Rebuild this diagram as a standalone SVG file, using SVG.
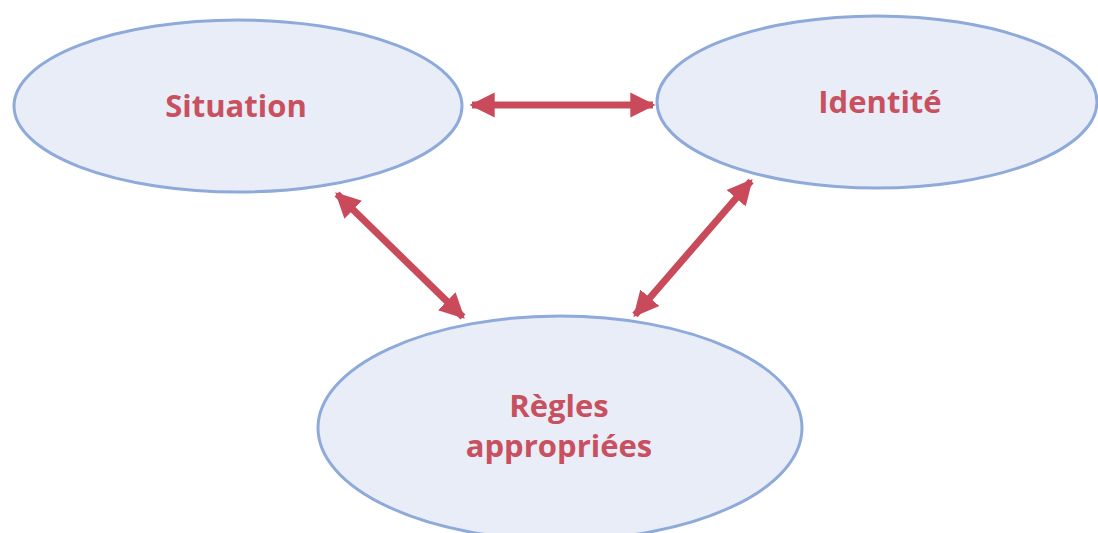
<svg xmlns="http://www.w3.org/2000/svg" width="1098" height="533" viewBox="0 0 1098 533">
<style>
.node{fill:#e8edf8;stroke:#8eaadb;stroke-width:3}
.lbl{font-family:"Open Sans","Noto Sans",sans-serif;font-weight:bold;font-size:31px;fill:#c9505e;text-anchor:middle}
.con{stroke:#c94b5b;stroke-width:7;fill:none;marker-start:url(#ah);marker-end:url(#ah)}
</style>
<defs>
<marker id="ah" viewBox="0 0 10 10" refX="9" refY="5" markerWidth="3.6" markerHeight="3.9" orient="auto-start-reverse" markerUnits="strokeWidth">
<path d="M0,0 L10,5 L0,10 Z" fill="#c94b5b"/>
</marker>
</defs>
<rect width="1098" height="533" fill="#fff"/>
<g id="situation">
<ellipse class="node" cx="238" cy="106" rx="224" ry="86"/>
<text class="lbl" x="236" y="117">Situation</text>
</g>
<g id="identite">
<ellipse class="node" cx="877" cy="102" rx="220" ry="86"/>
<text class="lbl" x="880" y="113">Identité</text>
</g>
<g id="regles">
<ellipse class="node" cx="560" cy="428" rx="242" ry="112"/>
<text class="lbl" x="559" y="417">Règles</text>
<text class="lbl" x="559" y="457">appropriées</text>
</g>
<g id="connectors">
<line class="con" x1="472" y1="105" x2="653" y2="105"/>
<line class="con" x1="337" y1="194" x2="463" y2="317"/>
<line class="con" x1="751" y1="181" x2="635" y2="315"/>
</g>
</svg>
